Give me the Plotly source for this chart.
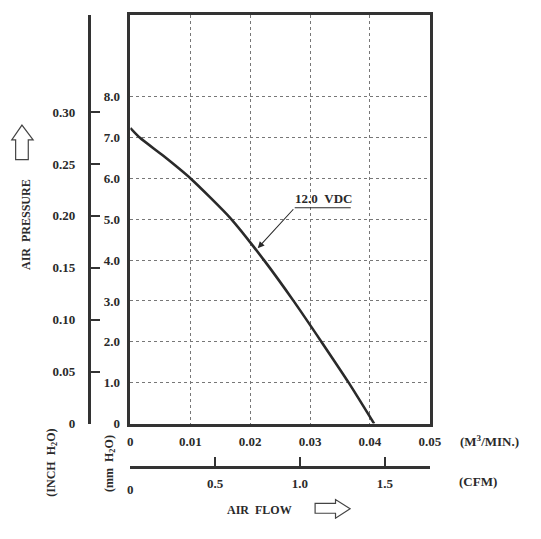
import plotly.graph_objects as go

W, H = 541, 539

# ---- data ----
flow_m3min = [0, 0.0016, 0.0055, 0.0101, 0.0168, 0.0224, 0.0273, 0.0320, 0.0365, 0.0407]
pressure_mm = [7.23, 6.99, 6.55, 5.99, 5.01, 3.98, 2.99, 1.98, 0.99, 0.0]
mm_ticks = [0, 1, 2, 3, 4, 5, 6, 7, 8]
mm_labels = ["0", "1.0", "2.0", "3.0", "4.0", "5.0", "6.0", "7.0", "8.0"]
inch_ticks = [0, 0.05, 0.10, 0.15, 0.20, 0.25, 0.30]
inch_labels = ["0", "0.05", "0.10", "0.15", "0.20", "0.25", "0.30"]
m3_ticks = [0, 0.01, 0.02, 0.03, 0.04, 0.05]
m3_labels = ["0", "0.01", "0.02", "0.03", "0.04", "0.05"]
cfm_ticks = [0, 0.5, 1.0, 1.5]
cfm_labels = ["", "0.5", "1.0", "1.5"]
curve_label = "12.0&nbsp;&nbsp;VDC"
label_tip = (0.02127, 4.29)
label_tail = (0.02744, 5.28)

MM_PER_INCH = 25.4
M3MIN_PER_CFM = 0.0283168
X_MAX, Y_MAX = 0.05, 10.0

def px(x):
    return x / W

def py(y):
    return 1 - y / H

FONT = "Liberation Serif"
DARK = "#2a2a2a"
tickfont = dict(family=FONT, size=13, color=DARK, weight="bold")

fig = go.Figure()
fig.add_trace(go.Scatter(x=flow_m3min, y=pressure_mm, mode="lines",
                         line=dict(color=DARK, width=2.6, shape="spline", smoothing=0.6),
                         hoverinfo="skip", showlegend=False))
# helper invisible traces so secondary axes render
fig.add_trace(go.Scatter(x=[0], y=[0], xaxis="x2", yaxis="y", mode="markers",
                         marker=dict(opacity=0), hoverinfo="skip", showlegend=False))
fig.add_trace(go.Scatter(x=[0], y=[0], xaxis="x", yaxis="y2", mode="markers",
                         marker=dict(opacity=0), hoverinfo="skip", showlegend=False))

xdom = [px(131), px(439)]
ydom = [py(430), py(15)]

fig.update_layout(
    width=W, height=H,
    margin=dict(l=0, r=0, t=0, b=0),
    paper_bgcolor="white", plot_bgcolor="white",
    showlegend=False,
    xaxis=dict(domain=xdom, range=[0, X_MAX], tickvals=m3_ticks, ticktext=m3_labels,
               showgrid=True, gridcolor="#777", griddash="dot", gridwidth=1,
               showline=True, linecolor="#333", linewidth=2.6, mirror=True,
               ticks="", tickfont=tickfont, ticklabelstandoff=4, zeroline=False,
               fixedrange=True),
    yaxis=dict(domain=ydom, range=[0, Y_MAX], tickvals=mm_ticks, ticktext=mm_labels,
               showgrid=True, gridcolor="#777", griddash="dot", gridwidth=1,
               showline=True, linecolor="#333", linewidth=2.6, mirror=True,
               ticks="", tickfont=tickfont, ticklabelstandoff=5, zeroline=False,
               fixedrange=True),
    xaxis2=dict(overlaying="x", anchor="free", position=py(474), side="bottom",
                range=[0, X_MAX / M3MIN_PER_CFM], tickvals=cfm_ticks, ticktext=cfm_labels,
                showgrid=False, zeroline=False, showline=True, linecolor="#333",
                linewidth=2.6, ticks="inside", ticklen=9, tickwidth=1.6, tickcolor="#333",
                tickfont=tickfont, ticklabelstandoff=4, fixedrange=True),
    yaxis2=dict(overlaying="y", anchor="free", position=px(88), side="left",
                range=[0, Y_MAX / MM_PER_INCH], tickvals=inch_ticks, ticktext=inch_labels,
                showgrid=False, zeroline=False, showline=True, linecolor="#333",
                linewidth=2.6, ticks="inside", ticklen=10, tickwidth=1.6, tickcolor="#333",
                tickfont=tickfont, ticklabelstandoff=10, fixedrange=True),
)

lblfont = dict(family=FONT, size=12, color=DARK, weight="bold")
unitfont = dict(family=FONT, size=13, color=DARK, weight="bold")
ann = [
    dict(x=px(23), y=py(228), text="AIR&nbsp;&nbsp;PRESSURE", textangle=-90, font=lblfont),
    dict(x=px(50), y=py(470), text="(INCH&nbsp;&nbsp;H<sub>2</sub>O)", textangle=-90, font=lblfont),
    dict(x=px(110), y=py(470), text="(mm&nbsp;&nbsp;H<sub>2</sub>O)", textangle=-90, font=lblfont),
    dict(x=px(500), y=py(448), text="(M<sup>3</sup>/MIN.)", font=unitfont),
    dict(x=px(489), y=py(489), text="(CFM)", font=unitfont),
    dict(x=px(264), y=py(518), text="AIR&nbsp;&nbsp;FLOW", font=lblfont),
]
for a in ann:
    fig.add_annotation(xref="paper", yref="paper", showarrow=False,
                       xanchor="center", yanchor="middle", **a)
# CFM zero label (sits lower)
fig.add_annotation(xref="paper", yref="paper", x=px(131), y=py(497), text="0",
                   showarrow=False, font=tickfont, xanchor="center", yanchor="middle")

# curve label
fig.add_annotation(xref="x", yref="y", x=0.0323, y=5.5, text=curve_label,
                   showarrow=False, font=dict(family=FONT, size=13, color=DARK, weight="bold"),
                   xanchor="center", yanchor="middle")
fig.add_shape(type="line", xref="x", yref="y", x0=label_tail[0], y0=label_tail[1],
              x1=0.0368, y1=label_tail[1], line=dict(color=DARK, width=1.2))
fig.add_annotation(xref="x", yref="y", x=label_tip[0], y=label_tip[1],
                   axref="x", ayref="y", ax=label_tail[0], ay=label_tail[1],
                   text="", showarrow=True, arrowhead=2, arrowsize=1.2,
                   arrowwidth=1.1, arrowcolor=DARK, standoff=0)

def pth(points):
    return "M " + " L ".join(f"{px(x):.5f},{py(y):.5f}" for x, y in points) + " Z"

# up arrow (outline)
up = [(13, 162), (26, 162), (26, 142), (31, 142), (19.5, 127), (9, 142), (13, 142)]
fig.add_shape(type="path", xref="paper", yref="paper", path=pth(up),
              line=dict(color="#444", width=1.2), fillcolor="white")
# right arrow (outline)
right = [(321, 511), (342, 511), (342, 507), (357, 516.5), (342, 526), (342, 521), (321, 521)]
fig.add_shape(type="path", xref="paper", yref="paper", path=pth(right),
              line=dict(color="#444", width=1.2), fillcolor="white")

fig.write_html("out.html")
